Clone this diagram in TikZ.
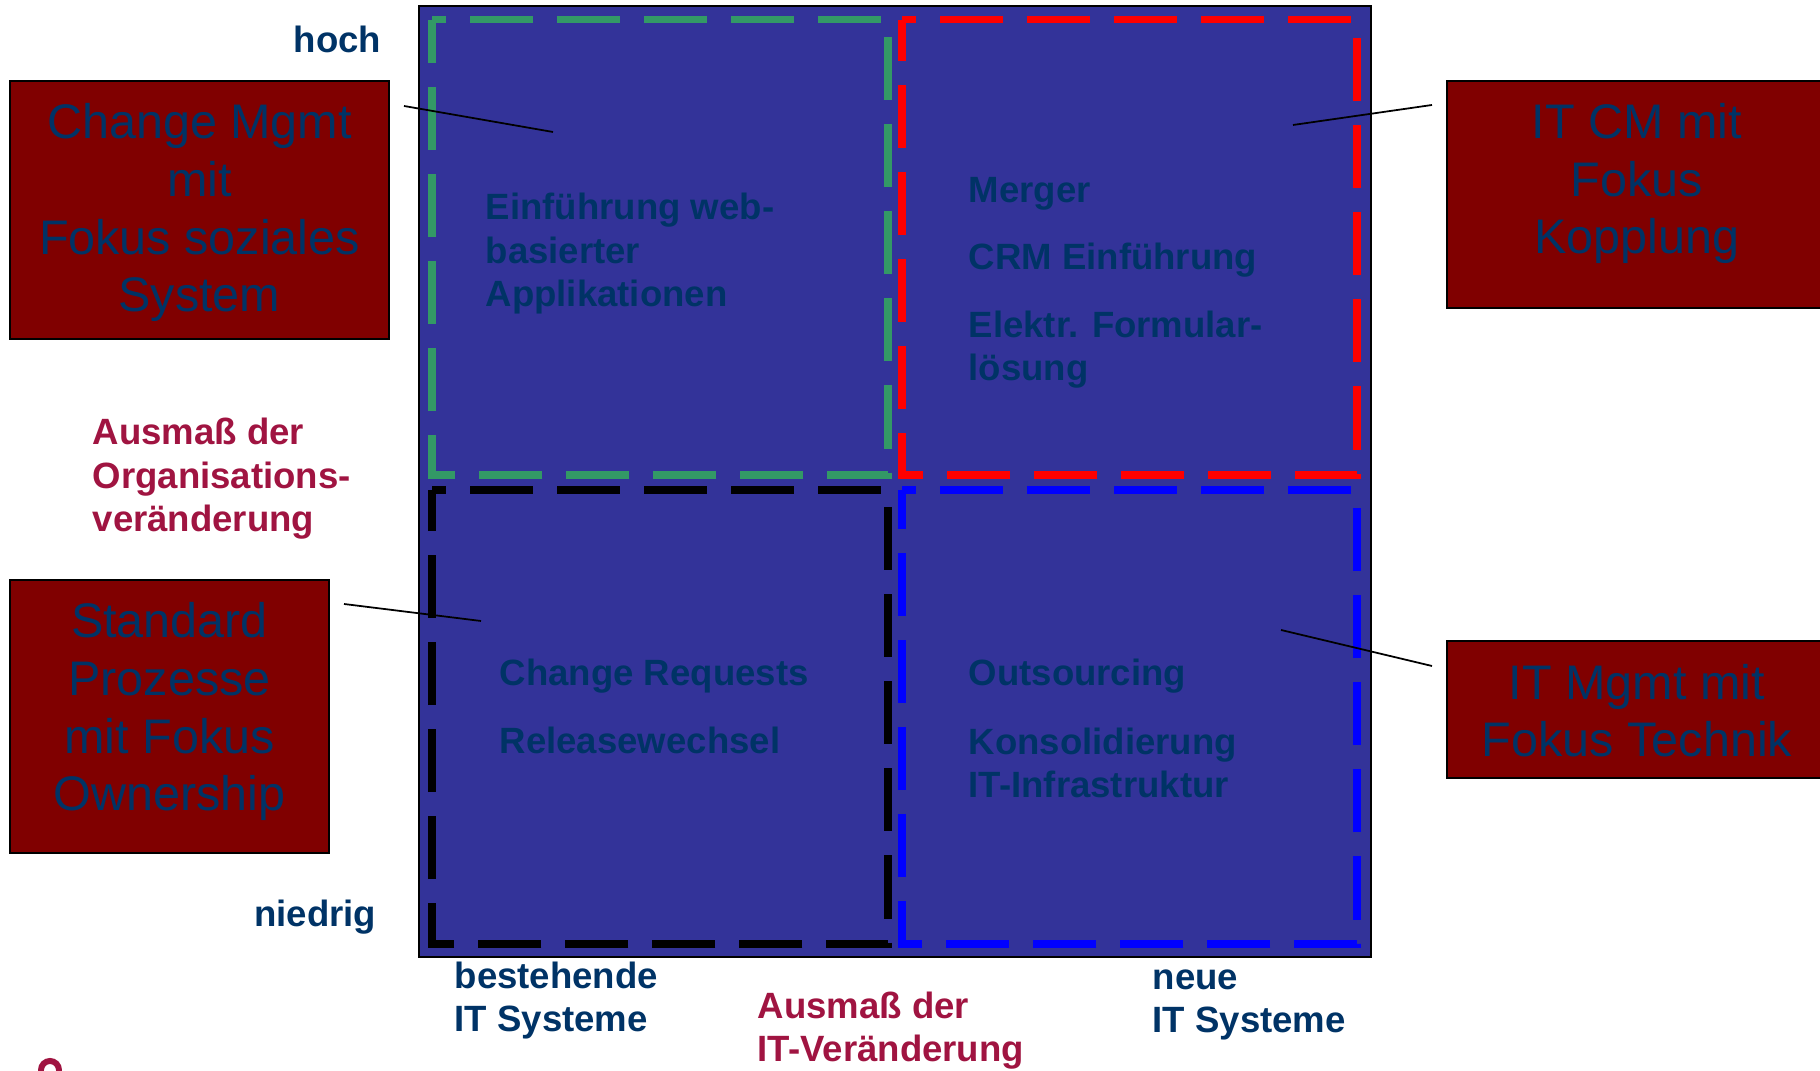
\documentclass[tikz,border=0pt]{standalone}
\usepackage{fontspec}
\setmainfont{Liberation Sans}
\usetikzlibrary{positioning}

\definecolor{quadblue}{RGB}{51,51,153}
\definecolor{quadgreen}{RGB}{51,153,102}
\definecolor{txtnavy}{RGB}{0,51,102}
\definecolor{axisred}{RGB}{160,20,65}
\definecolor{boxred}{RGB}{128,0,0}

\tikzset{
  quadframe/.style={line width=2pt, dash pattern=on 0.63cm off 0.24cm, dash phase=0.49cm},
  quadtext/.style={anchor=base west, align=left, text=txtnavy, inner sep=0pt,
    font=\bfseries\fontsize{10.4}{12.5}\selectfont},
  axistitle/.style={quadtext, text=axisred},
  focusbox/.style={draw=black, line width=0.6pt, fill=boxred},
  focustext/.style={anchor=base, align=center, text=txtnavy, inner sep=0pt,
    font=\fontsize{13.8}{16.4}\selectfont},
  pointer/.style={line width=0.5pt}
}

\begin{document}
\begin{tikzpicture}[x=0.01cm, y=-0.01cm]
  \useasboundingbox (0,0) rectangle (1820,1071);
  % portfolio square and the four quadrants
  \draw[fill=quadblue, line width=0.5pt] (419,6) rectangle (1371,957);
  \draw[quadframe, quadgreen] (432,20) -| (888,475) -| cycle;
  \draw[quadframe, red] (902,20) -| (1357,475) -| cycle;
  \draw[quadframe, black] (432,490) -| (888,944) -| cycle;
  \draw[quadframe, blue] (902,490) -| (1357,944) -| cycle;

  % quadrant contents (base = last line)
  \node[quadtext] (webapps) at (485,307) {Einführung web-\\basierter\\Applikationen};
  \node[quadtext] (merger) at (968,203) {Merger};
  \node[quadtext] (crm) at (968,270) {CRM Einführung};
  \node[quadtext] (formular) at (968,381) {Elektr. Formular-\\lösung};
  \node[quadtext] (changereq) at (499,686) {Change Requests};
  \node[quadtext] (release) at (499,754) {Releasewechsel};
  \node[quadtext] (outsrc) at (968,686) {Outsourcing};
  \node[quadtext] (konsol) at (968,798) {Konsolidierung\\IT-Infrastruktur};

  % axes
  \node[quadtext, anchor=base east] (hoch) at (382,52.7) {hoch};
  \node[quadtext, anchor=base east] (niedrig) at (377,927) {niedrig};
  \node[axistitle] (orgaxis) at (92,532) {Ausmaß der\\Organisations-\\veränderung};
  \node[quadtext] (bestehend) at (454,1032) {bestehende\\IT Systeme};
  \node[axistitle] (itaxis) at (757,1062) {Ausmaß der\\IT-Veränderung};
  \node[quadtext] (neu) at (1152,1033) {neue\\IT Systeme};

  % management focus boxes
  \node[focusbox, minimum width=3.79cm, minimum height=2.58cm] (cmsoz) at (199.5,210) {};
  \node[focustext] (cmsoztxt) at (199.5,312) {Change Mgmt\\mit\\Fokus soziales\\System};
  \node[focusbox, minimum width=3.80cm, minimum height=2.27cm] (itcm) at (1637,194.5) {};
  \node[focustext] (itcmtxt) at (1637,254) {IT CM mit\\Fokus\\Kopplung};
  \node[focusbox, minimum width=3.19cm, minimum height=2.73cm] (stdproz) at (169.5,716.5) {};
  \node[focustext] (stdproztxt) at (169.5,811) {Standard\\Prozesse\\mit Fokus\\Ownership};
  \node[focusbox, minimum width=3.80cm, minimum height=1.37cm] (ittech) at (1637,709.5) {};
  \node[focustext] (ittechtxt) at (1637,757) {IT Mgmt mit\\Fokus Technik};

  % pointers into the quadrants
  \coordinate (cmsozfrom) at (404,106);
  \coordinate (cmsozto) at (553,132);
  \coordinate (itcmfrom) at (1432,105);
  \coordinate (itcmto) at (1293,125);
  \coordinate (stdprozfrom) at (344,604);
  \coordinate (stdprozto) at (481,621);
  \coordinate (ittechfrom) at (1432,666);
  \coordinate (ittechto) at (1281,630);
  \draw[pointer] (cmsozfrom) -- (cmsozto);
  \draw[pointer] (itcmfrom) -- (itcmto);
  \draw[pointer] (stdprozfrom) -- (stdprozto);
  \draw[pointer] (ittechfrom) -- (ittechto);

  % logo edge, cut by the page
  \draw[axisred, line width=1.7pt] (41,1078) -- (41,1070) arc (180:360:9) -- (59,1078);
\end{tikzpicture}
\end{document}
